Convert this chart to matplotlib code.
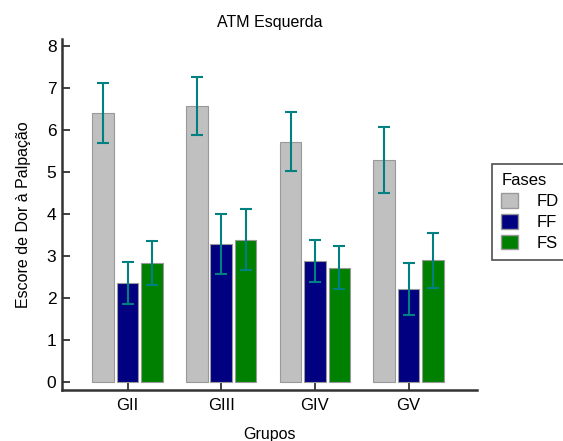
import matplotlib
matplotlib.use("Agg")
import matplotlib.pyplot as plt
import numpy as np
from matplotlib.patches import Patch

plt.rcParams['font.family'] = ['Liberation Sans', 'DejaVu Sans']

groups = ["GII", "GIII", "GIV", "GV"]
phases = ["FD", "FF", "FS"]
means = {
    "FD": [6.41, 6.57, 5.72, 5.28],
    "FF": [2.36, 3.28, 2.87, 2.21],
    "FS": [2.83, 3.38, 2.72, 2.89],
}
errors = {
    "FD": [0.72, 0.70, 0.70, 0.78],
    "FF": [0.50, 0.71, 0.50, 0.62],
    "FS": [0.53, 0.73, 0.52, 0.66],
}
yticks = [0, 1, 2, 3, 4, 5, 6, 7, 8]

colors = {"FD": "#c0c0c0", "FF": "#000080", "FS": "#008000"}
err_color = "#008080"
spine_color = "#333333"

fig = plt.figure(figsize=(5.63, 4.41), dpi=100)
ax = fig.add_axes([62 / 563, 1 - 390 / 441, (477 - 62) / 563, (390 - 39) / 441])

x = np.arange(len(groups))
width = 0.23
offset = 0.26
for i, ph in enumerate(phases):
    pos = x + (i - 1) * offset
    ax.bar(pos, means[ph], width=width, color=colors[ph],
           edgecolor="#999999", linewidth=0.8, zorder=2)
    ax.errorbar(pos, means[ph], yerr=errors[ph], fmt="none",
                ecolor=err_color, elinewidth=1.5, capsize=4, capthick=1.5, zorder=3)

ax.set_xlim(-0.7, 3.73)
ax.set_ylim(-0.2, 8.17)
ax.set_xticks(x)
ax.set_xticklabels(groups, fontsize=12)
ax.set_yticks(yticks)
ax.set_yticklabels([str(t) for t in yticks], fontsize=12.5)

for side in ("top", "right"):
    ax.spines[side].set_visible(False)
for side in ("left", "bottom"):
    ax.spines[side].set_color(spine_color)
    ax.spines[side].set_linewidth(1.8)
ax.tick_params(axis="both", direction="in", length=6, width=1.3,
               color=spine_color)
ax.tick_params(axis="y", pad=4)
ax.tick_params(axis="x", pad=6)

ax.set_title("ATM Esquerda", fontsize=11.5, pad=9)
ax.set_xlabel("Grupos", fontsize=11.5, labelpad=10)
ax.set_ylabel("Escore de Dor à Palpação", fontsize=11.5, labelpad=11)

handles = [Patch(facecolor=colors[ph], edgecolor="#999999", label=ph) for ph in phases]
leg = fig.legend(handles=handles, title="Fases", loc="upper left",
                 bbox_to_anchor=(492 / 563, 1 - 164 / 441), fontsize=12,
                 title_fontsize=12, frameon=True, fancybox=False,
                 handlelength=1.0, handleheight=1.0, handletextpad=1.1,
                 borderpad=0.55, labelspacing=0.28, borderaxespad=0)
leg._legend_box.align = "left"
leg.get_frame().set_edgecolor("#222222")
leg.get_frame().set_linewidth(1.2)

fig.savefig("out.png", dpi=100)
